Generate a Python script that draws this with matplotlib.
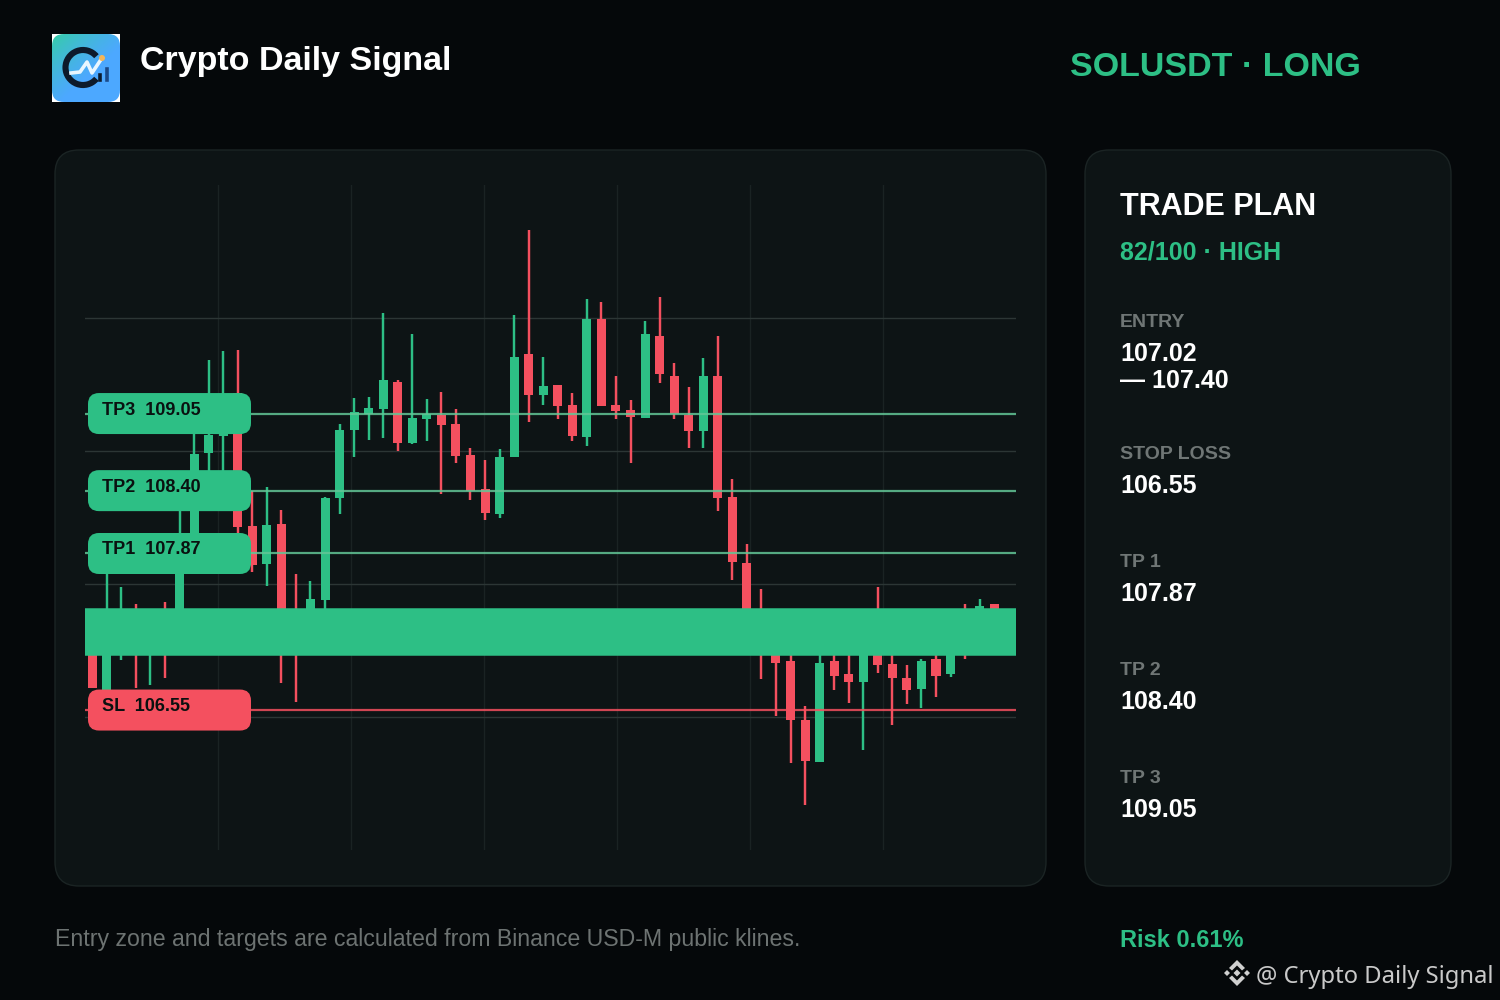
import numpy as np
import matplotlib
matplotlib.use('Agg')
from matplotlib import pyplot as plt
from matplotlib.patches import FancyBboxPatch, Polygon, Circle, Arc

plt.rcParams['font.family'] = ['Liberation Sans', 'DejaVu Sans']

# candles, SOLUSDT (several sit behind the entry band and labels)
opens = [107.27, 106.68, 107.14, 107.30, 107.05, 107.30, 107.22, 107.98, 108.72, 108.86, 109.22, 108.10, 107.78, 108.12, 107.30, 107.22,
         107.48, 108.34, 108.91, 109.05, 109.09, 109.32, 108.80, 109.00, 109.04, 108.96, 108.70, 108.41, 108.20, 108.68, 109.55, 109.21,
         109.29, 109.12, 108.85, 109.85, 109.12, 109.08, 109.01, 109.70, 109.37, 109.04, 108.90, 109.37, 108.35, 107.79, 107.35, 107.20,
         106.96, 106.47, 106.11, 106.96, 106.85, 106.79, 107.10, 106.94, 106.82, 106.73, 106.98, 106.85, 107.20, 107.10, 107.44, 107.20]
highs = [107.27, 107.81, 107.59, 107.44, 107.38, 107.46, 108.49, 108.99, 109.50, 109.58, 109.59, 108.40, 108.43, 108.24, 107.70, 107.64,
         108.35, 108.96, 109.18, 109.19, 109.90, 109.33, 109.72, 109.17, 109.23, 109.09, 108.76, 108.66, 108.75, 109.88, 110.60, 109.53,
         109.29, 109.22, 110.02, 109.99, 109.37, 109.16, 109.83, 110.03, 109.48, 109.27, 109.52, 109.70, 108.50, 107.95, 107.57, 107.25,
         107.10, 106.58, 107.10, 107.05, 107.10, 107.20, 107.59, 107.10, 106.93, 106.98, 107.05, 107.15, 107.44, 107.49, 107.44, 107.30]
lows = [106.74, 106.65, 106.97, 106.74, 106.76, 106.82, 107.14, 107.94, 108.49, 108.49, 108.04, 107.71, 107.60, 106.78, 106.62, 107.14,
        107.38, 108.20, 108.68, 108.83, 108.84, 108.73, 108.79, 108.82, 108.37, 108.63, 108.32, 108.15, 108.17, 108.68, 108.98, 109.12,
        109.00, 108.82, 108.78, 109.11, 109.00, 108.63, 109.01, 109.31, 109.00, 108.76, 108.76, 108.23, 107.65, 107.35, 106.81, 106.50,
        106.10, 105.75, 106.11, 106.72, 106.61, 106.21, 106.86, 106.42, 106.60, 106.57, 106.66, 106.83, 106.98, 107.05, 107.15, 107.15]
closes = [106.74, 107.14, 107.27, 107.10, 107.25, 107.10, 107.81, 108.71, 108.87, 109.04, 108.09, 107.77, 108.11, 107.22, 107.10, 107.49,
          108.34, 108.91, 109.06, 109.10, 109.33, 108.80, 109.01, 109.05, 108.95, 108.69, 108.40, 108.21, 108.68, 109.53, 109.21, 109.28,
          109.11, 108.86, 109.85, 109.11, 109.07, 109.02, 109.72, 109.38, 109.05, 108.90, 109.37, 108.34, 107.80, 107.35, 107.20, 106.95,
          106.47, 106.12, 106.95, 106.84, 106.79, 107.10, 106.93, 106.82, 106.72, 106.96, 106.84, 107.10, 107.10, 107.43, 107.20, 107.25]

entry_low = 107.02
entry_high = 107.40
stop_loss = 106.55
tp_names = ['TP1', 'TP2', 'TP3']
tp_levels = [107.87, 108.40, 109.05]
price_min = 105.37
price_max = 110.977

plan_names = ['STOP LOSS', 'TP 1', 'TP 2', 'TP 3']
plan_values = ['106.55', '107.87', '108.40', '109.05']

BG = '#05080a'
CARD = '#0d1415'
EDGE = '#1b2424'
GREEN = '#2dbf85'
RED = '#f4505f'
DARK = '#0a1110'

fig = plt.figure(figsize=(15, 10), dpi=100, facecolor=BG)

# background layer and top layer both work in picture pixels
back = fig.add_axes([0, 0, 1, 1], zorder=0)
top = fig.add_axes([0, 0, 1, 1], zorder=2)
for a in (back, top):
    a.set_xlim(0, 1500)
    a.set_ylim(1000, 0)
    a.axis('off')

for x0, x1 in [(55, 1046), (1085, 1451)]:
    back.add_patch(FancyBboxPatch((x0 + 24, 150 + 24), x1 - x0 - 48, 736 - 48,
                                  boxstyle='round,pad=24,rounding_size=24',
                                  fc=CARD, ec=EDGE, lw=1.0))

# chart
ax = fig.add_axes([85 / 1500, 1 - 850 / 1000, 931 / 1500, 665 / 1000], zorder=1)
ax.patch.set_alpha(0)
for s in ax.spines.values():
    s.set_visible(False)
n = len(opens)
ax.set_xlim(-0.5, n - 0.5)
ax.set_ylim(price_min, price_max)
ax.set_xticks(np.linspace(-0.5, n - 0.5, 8)[1:-1])
ax.set_yticks(np.linspace(price_min, price_max, 6)[1:-1])
ax.tick_params(length=0, labelbottom=False, labelleft=False)
ax.grid(axis='y', color='#2c3635', lw=1)
ax.grid(axis='x', color='#1a2323', lw=1)
ax.set_axisbelow(True)

xs = np.arange(n)
colors = [GREEN if c >= o else RED for o, c in zip(opens, closes)]
ax.vlines(xs, lows, highs, colors=colors, lw=1.75, zorder=2)
ax.bar(xs, np.abs(np.array(closes) - np.array(opens)), bottom=np.minimum(opens, closes),
       width=0.62, color=colors, zorder=3)

for lv in tp_levels:
    ax.axhline(lv, color='#62c596', alpha=0.85, lw=1.6, zorder=4)
ax.axhline(stop_loss, color=RED, alpha=0.85, lw=1.6, zorder=4)
ax.axhspan(entry_low, entry_high, fc=GREEN, ec=GREEN, lw=1.8, zorder=5)


def price_to_y(p):
    return 1000 - ax.transData.transform((0, p))[1]


def level_label(text, price, color):
    y = price_to_y(price)
    top.add_patch(FancyBboxPatch((88 + 11, y - 20.5 + 11), 163 - 22, 41 - 22,
                                 boxstyle='round,pad=11,rounding_size=11', fc=color, ec='none'))
    top.text(102, y + 1, text, color=DARK, fontsize=13, fontweight='bold', va='baseline')


for name, lv in zip(tp_names[::-1], tp_levels[::-1]):
    level_label(f'{name}  {lv:.2f}', lv, GREEN)
level_label(f'SL  {stop_loss:.2f}', stop_loss, RED)


def label(x, y, s, color='white', size=18, weight='bold', **kw):
    top.text(x, y, s, color=color, fontsize=size, fontweight=weight, va='baseline', **kw)


# header
label(140, 70, 'Crypto Daily Signal', size=24.5)
label(1070, 76, 'SOLUSDT · LONG', color=GREEN, size=24.5)

# side panel
label(1120, 215, 'TRADE PLAN', size=22)
label(1120, 260, '82/100 · HIGH', color=GREEN, size=18)
label(1120, 327, 'ENTRY', color='#6f7675', size=14)
label(1120, 361, '107.02')
label(1120, 388, '— 107.40')
for name, val, y in zip(plan_names, plan_values, [459, 567, 675, 783]):
    label(1120, y, name, color='#6f7675', size=14)
    label(1120, y + 34, val)

# footer
label(55, 946, 'Entry zone and targets are calculated from Binance USD-M public klines.',
      color='#6d7372', size=16.65, weight='normal')
label(1120, 947, 'Risk 0.61%', color=GREEN, size=17)
top.text(1256, 983, '@ Crypto Daily Signal', color='#c9c9c9', fontsize=17.1, family=['Noto Sans', 'DejaVu Sans'])

# watermark diamond mark
wm = '#d0d0d0'
wx, wy = 1237, 973
for pts in [[(-3.5, 0), (0, -3.5), (3.5, 0), (0, 3.5)],
            [(-13, 0), (-10, -3), (-7, 0), (-10, 3)],
            [(13, 0), (10, -3), (7, 0), (10, 3)],
            [(0, -13), (8, -5), (5, -2.5), (0, -7.5), (-5, -2.5), (-8, -5)],
            [(0, 13), (8, 5), (5, 2.5), (0, 7.5), (-5, 2.5), (-8, 5)]]:
    top.add_patch(Polygon([(wx + a, wy + b) for a, b in pts], fc=wm, ec='none'))

# logo: white corners, gradient tile, dark C with a small line
top.add_patch(plt.Rectangle((52, 34), 68, 68, fc='white', ec='none'))
u, v = np.meshgrid(np.linspace(0, 1, 68), np.linspace(0, 1, 68))
t = np.clip((u * 0.9 + v) / 1.1, 0, 1)[..., None] ** 0.7
grad = (1 - t) * np.array([0.20, 0.82, 0.62]) + t * np.array([0.30, 0.66, 1.0])
im = top.imshow(grad, extent=(52, 120, 102, 34), zorder=1, aspect='auto')
tile = FancyBboxPatch((52 + 12, 34 + 12), 68 - 24, 68 - 24, boxstyle='round,pad=12,rounding_size=12',
                      fc='none', ec='none', transform=top.transData)
top.add_patch(tile)
im.set_clip_path(tile)
top.set_xlim(0, 1500)
top.set_ylim(1000, 0)
top.add_patch(Arc((83, 67.5), 35, 35, theta1=40, theta2=320, color='#0d1a2b', lw=4.4, zorder=2))
top.plot([71, 80, 87, 92, 102], [73, 72, 62, 73, 58], color='#e8f6ff', lw=2.6, zorder=3)
top.add_patch(Circle((102, 58), 3, fc='#f3b65a', ec='none', zorder=4))
top.plot([107, 107], [69, 80], color='#1a4a8a', lw=2.6, zorder=3)
top.plot([100, 100], [75, 80], color='#0d1a2b', lw=2.6, zorder=3)

fig.savefig('out.png', dpi=100, facecolor=BG)
